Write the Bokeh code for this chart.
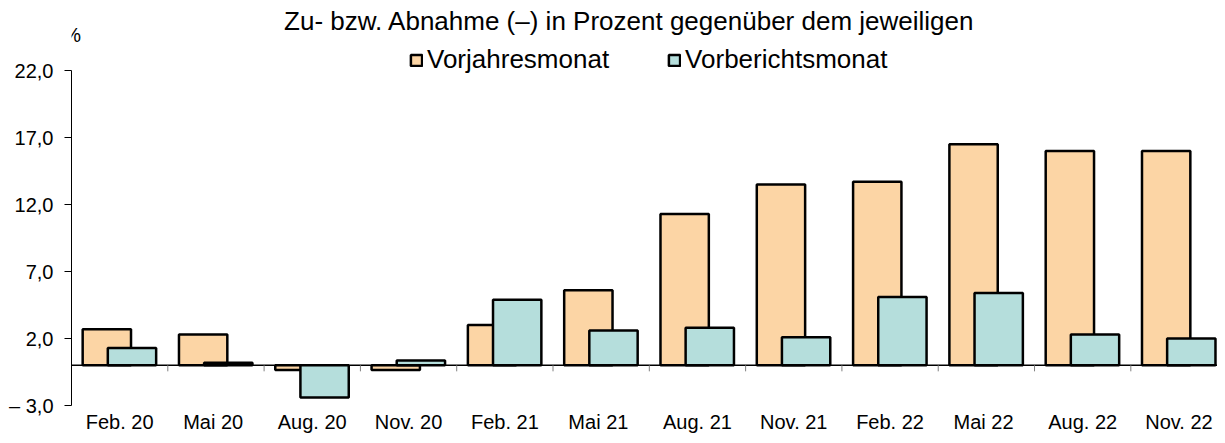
import numpy as np
from bokeh.plotting import figure
from bokeh.models import (Range1d, FixedTicker, Label, Legend, LegendItem,
                          ColumnDataSource, Span)
from bokeh.transform import dodge
from bokeh.core.properties import value
from bokeh.embed import file_html
from bokeh.resources import INLINE

# ---------------- data ----------------
categories = ["Feb. 20", "Mai  20", "Aug. 20", "Nov. 20", "Feb. 21", "Mai  21",
              "Aug. 21", "Nov. 21", "Feb. 22", "Mai  22", "Aug. 22", "Nov. 22"]
vorjahresmonat = [2.7, 2.3, -0.35, -0.35, 3.0, 5.6, 11.3, 13.5, 13.7, 16.5, 16.0, 16.0]
vorberichtsmonat = [1.3, 0.2, -2.4, 0.35, 4.9, 2.6, 2.8, 2.1, 5.1, 5.4, 2.3, 2.0]
y_ticks = [-3, 2, 7, 12, 17, 22]
y_tick_labels = ["\u2013 3,0", "2,0", "7,0", "12,0", "17,0", "22,0"]
series_names = ["Vorjahresmonat", "Vorberichtsmonat"]
subtitle = "Zu- bzw. Abnahme (\u2013) in Prozent gegen\u00fcber dem jeweiligen"
unit_label = "%"

FONT = "Liberation Sans"
ORANGE = "#FCD5A5"
TEAL = "#B5DEDC"

n = len(categories)
xc = np.arange(n) + 0.5
source = ColumnDataSource(dict(x=xc, yoy=vorjahresmonat, mom=vorberichtsmonat,
                               cat=categories))
bounds_src = ColumnDataSource(dict(bx=np.arange(1, n + 1)))

p = figure(width=1217, height=435,
           x_range=Range1d(0, 11.90), y_range=Range1d(-3, 27.23),
           output_backend="svg", toolbar_location=None,
           min_border_left=71, min_border_right=0, min_border_top=0,
           min_border_bottom=29, outline_line_color=None,
           background_fill_color="white", border_fill_color="white")
p.xgrid.visible = False
p.ygrid.visible = False

# zero line and boundary ticks below it
p.add_layout(Span(location=0, dimension="width", line_color="black",
                  line_width=1.5, level="underlay"))
p.segment(x0="bx", y0=0, x1="bx", y1=-0.45, source=bounds_src,
          line_color="#808080", line_width=1)

bar_w = 0.502
r1 = p.vbar(x=dodge("x", -0.133), top="yoy", bottom=0, width=bar_w,
            fill_color=ORANGE, line_color="black", line_width=2.5, source=source)
r2 = p.vbar(x=dodge("x", 0.128), top="mom", bottom=0, width=bar_w,
            fill_color=TEAL, line_color="black", line_width=2.5, source=source)

# category labels (bottom)
xa = p.xaxis[0]
xa.ticker = FixedTicker(ticks=list(xc))
xa.major_label_overrides = {float(v): c for v, c in zip(xc, categories)}
xa.axis_line_color = None
xa.major_tick_line_color = None
xa.major_tick_out = 0
xa.major_tick_in = 0
xa.minor_tick_line_color = None
xa.minor_tick_out = 0
xa.major_label_standoff = 5
xa.major_label_text_font = FONT
xa.major_label_text_font_size = "20px"
xa.major_label_text_color = "black"

# y axis
ya = p.yaxis[0]
ya.ticker = FixedTicker(ticks=y_ticks)
ya.major_label_overrides = {t: l for t, l in zip(y_ticks, y_tick_labels)}
ya.bounds = (y_ticks[0], y_ticks[-1])
ya.major_tick_out = 7
ya.major_tick_in = 0
ya.minor_tick_line_color = None
ya.axis_line_color = "black"
ya.major_tick_line_color = "black"
ya.major_label_standoff = 11
ya.major_label_text_font = FONT
ya.major_label_text_font_size = "20px"
ya.major_label_text_color = "black"

# legend (location measured from the frame's bottom-left corner)
legend = Legend(items=[LegendItem(label=series_names[0], renderers=[r1]),
                       LegendItem(label=series_names[1], renderers=[r2])],
                location=(338, 330), orientation="horizontal",
                glyph_width=14, glyph_height=14, label_standoff=4,
                spacing=58, padding=0, margin=0,
                label_text_font=FONT, label_text_font_size="26px",
                label_text_color="black",
                background_fill_alpha=0, border_line_alpha=0)
p.add_layout(legend)

# subtitle and unit
p.add_layout(Label(x=5.794, y=25.71, text=subtitle, text_align="center",
                   text_baseline="middle", text_font=FONT,
                   text_font_size="26px", text_color="black"))
unit_src = ColumnDataSource(dict(x=[-0.086], y=[24.68], t=[unit_label]))
p.text(x="x", y="y", text="t", source=unit_src, text_align="left",
       text_baseline="middle", text_font=value(FONT),
       text_font_size=value("20px"), text_color="black")

open("out.html", "w").write(file_html(p, INLINE))
